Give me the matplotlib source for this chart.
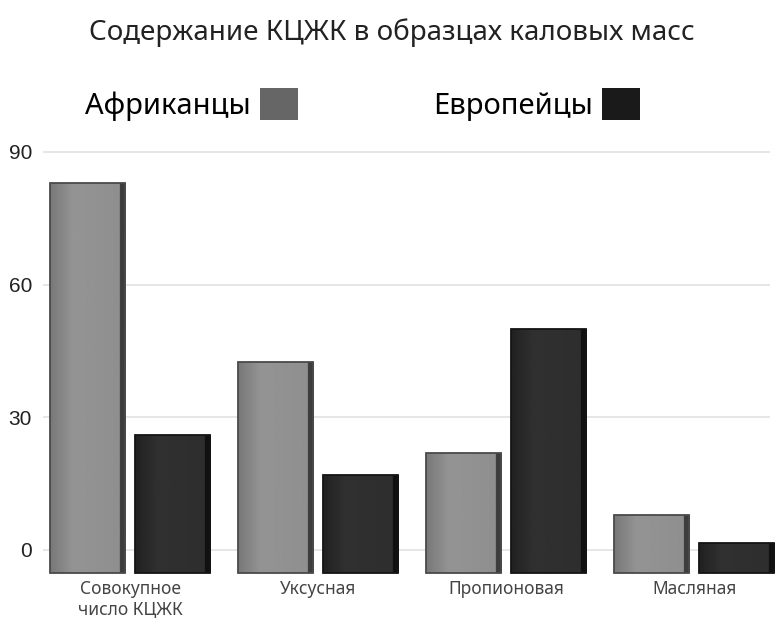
import matplotlib.pyplot as plt
import numpy as np
from matplotlib.patches import Patch

# data
categories = ["Совокупное\nчисло КЦЖК", "Уксусная", "Пропионовая", "Масляная"]
africans = [83, 42.5, 22, 8]
europeans = [26, 17, 50, 1.5]
series_names = ["Африканцы", "Европейцы"]
yticks = [0, 30, 60, 90]

plt.rcParams['font.family'] = ['Noto Sans', 'DejaVu Sans']

fig = plt.figure(figsize=(7.76, 6.2), dpi=100)
ax = fig.add_axes([43 / 776, 1 - 573 / 620, 727 / 776, 422 / 620])

x = np.arange(len(categories))
w = 0.40
base = -5.2  # bars hang a bit below zero, like the 3D original

def shade(bars, lo, mid, hi, edge):
    # soft horizontal gradient clipped to every bar
    grad = np.concatenate([np.linspace(lo, mid, 30), np.linspace(mid, hi, 62),
                           np.full(8, edge)])
    img = np.tile(grad, (2, 1))
    for b in bars:
        x0, y0 = b.get_x(), b.get_y()
        im = ax.imshow(img, cmap='gray', vmin=0, vmax=1, aspect='auto',
                       extent=[x0, x0 + b.get_width(), y0, y0 + b.get_height()],
                       zorder=3, interpolation='bilinear')
        im.set_clip_path(b)

b1 = ax.bar(x - 0.229, np.array(africans) - base, w, bottom=base,
            color='#8c8c8c', edgecolor='#4a4a4a', linewidth=1.3, zorder=2,
            clip_on=False)
b2 = ax.bar(x + 0.222, np.array(europeans) - base, w, bottom=base,
            color='#2e2e2e', edgecolor='#141414', linewidth=1.3, zorder=2,
            clip_on=False)
shade(b1, 0.47, 0.58, 0.56, 0.24)
shade(b2, 0.13, 0.19, 0.18, 0.07)
for b in list(b1) + list(b2):
    b.set_zorder(4)
    b.set_facecolor('none')

ax.set_xlim(-0.465, 3.40)
ax.set_ylim(base, 90.2)
ax.set_yticks(yticks)
ax.set_yticklabels([str(t) for t in yticks], fontfamily='Liberation Sans',
                   fontsize=15, color='#222222')
ax.tick_params(axis='y', length=0, pad=8)
ax.set_xticks(x)
ax.set_xticklabels(categories, fontsize=12.5, color='#444444', linespacing=1.25)
ax.tick_params(axis='x', length=0, pad=5)
ax.grid(axis='y', color='#e2e2e2', linewidth=1.2, zorder=0)
for s in ax.spines.values():
    s.set_visible(False)

fig.text(0.505, 0.948, "Содержание КЦЖК в образцах каловых масс",
         ha='center', va='center', fontsize=20, color='#222222')

handles = [Patch(facecolor='#666666'), Patch(facecolor='#1a1a1a')]
fig.legend(handles, series_names, ncol=2, markerfirst=False, frameon=False,
           loc='center', bbox_to_anchor=(0.467, 0.831), fontsize=21,
           handlelength=1.3, handleheight=1.3, handletextpad=0.3,
           columnspacing=4.65)

fig.savefig("out.png", dpi=100)
